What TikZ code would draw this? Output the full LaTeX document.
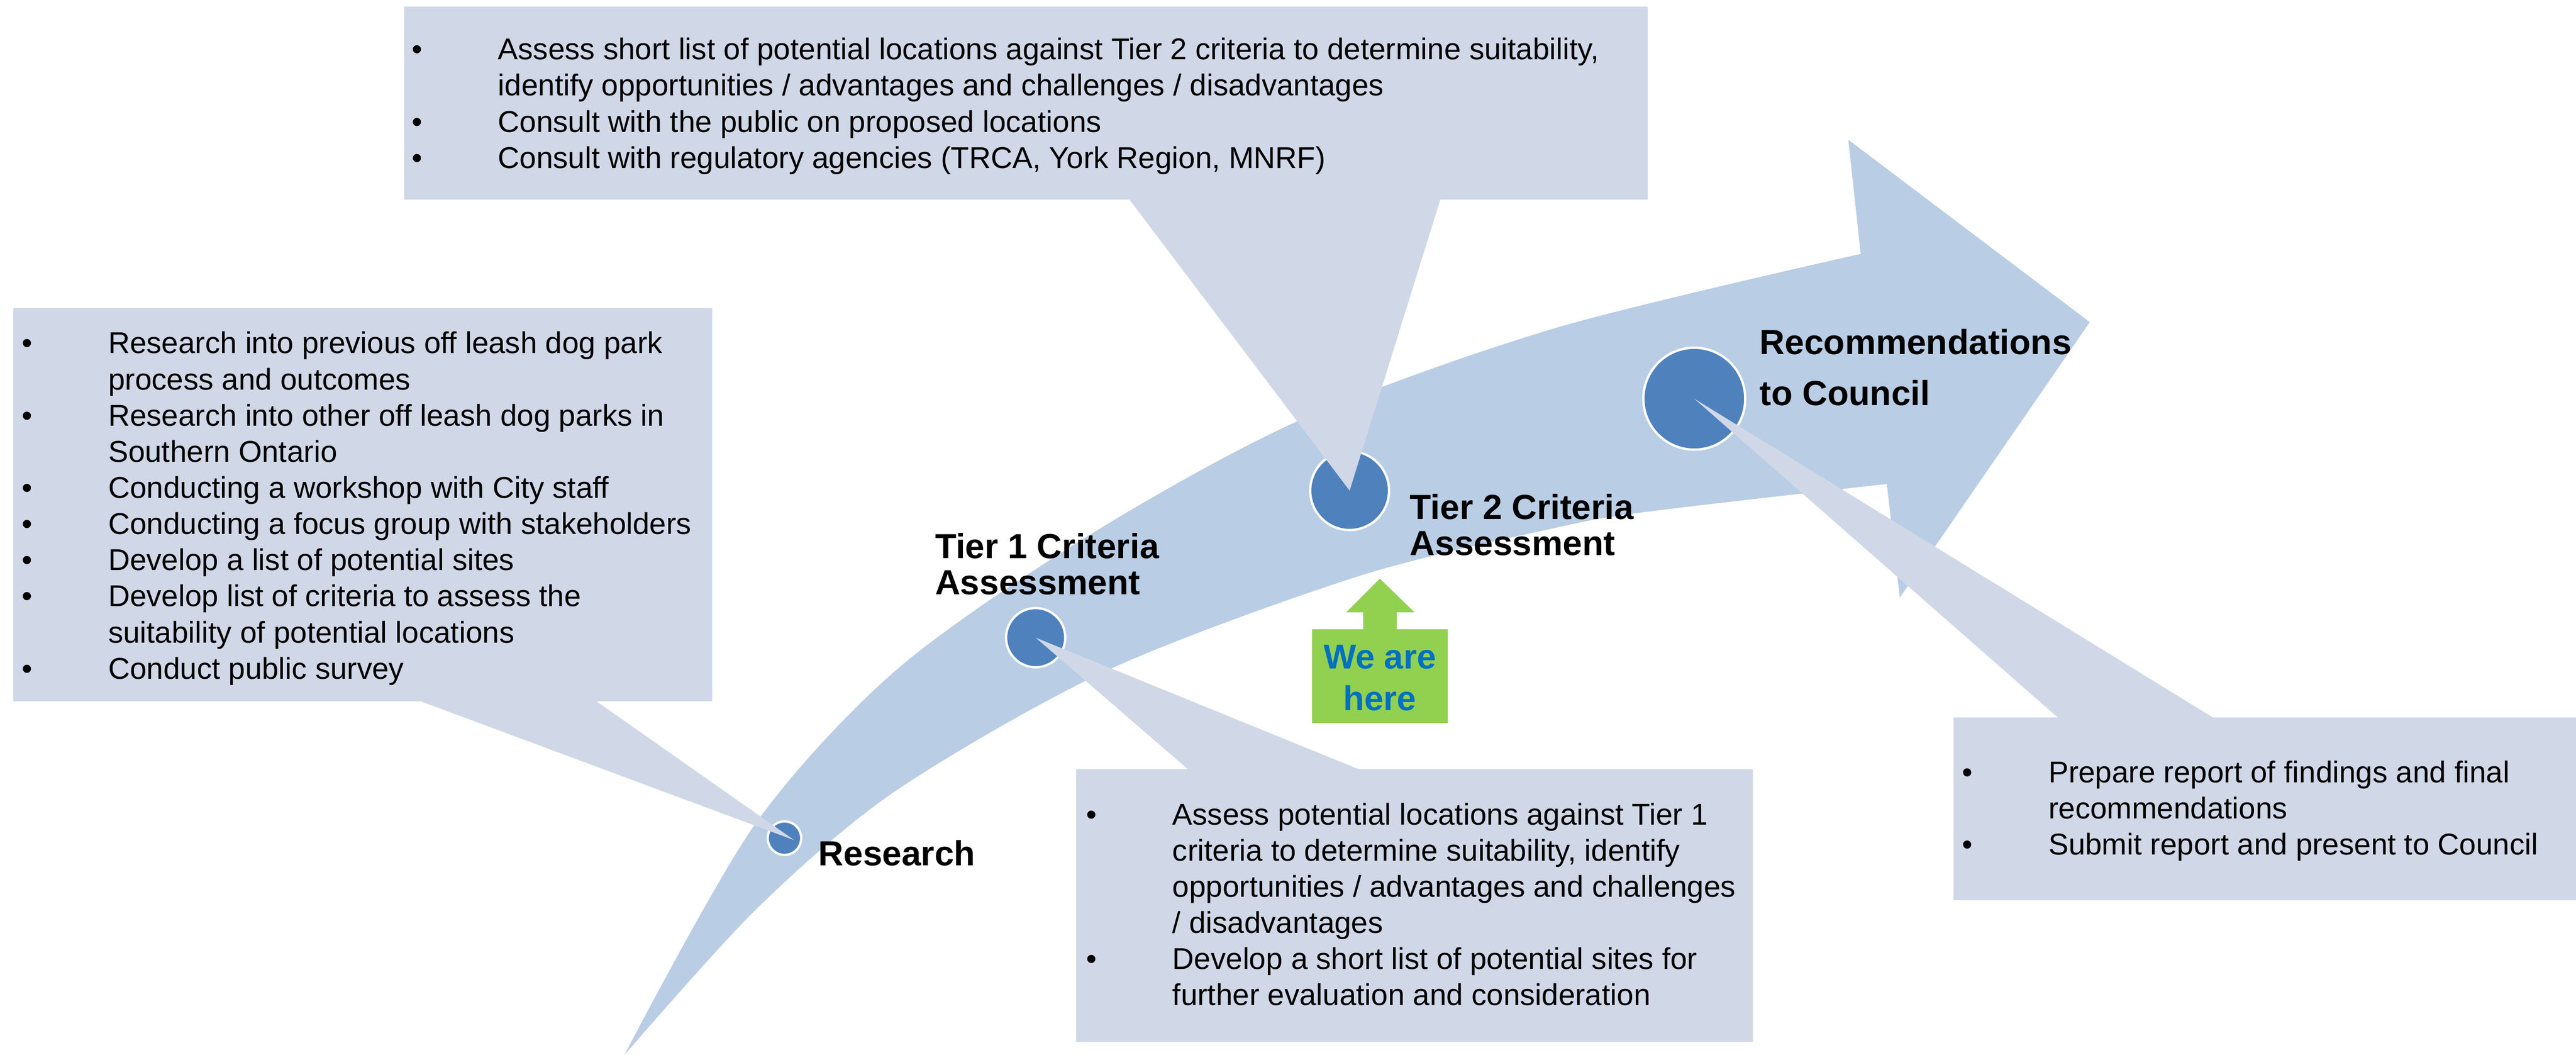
\documentclass[tikz,border=0pt]{standalone}
\usepackage{fontspec}
\setmainfont{Liberation Sans}
\usetikzlibrary{calc}
\newcommand\bul{\llap{\makebox[52.5pt][l]{•}}}

\begin{document}
\begin{tikzpicture}[x=1pt,y=-1pt,
  stage/.style={circle,fill=stageblue,draw=white,line width=1.4pt,inner sep=0},
  note/.style={fill=notefill},
  notetext/.style={anchor=base west,inner sep=0,font=\fontsize{18.3}{22}\selectfont},
  steplabel/.style={anchor=base west,inner sep=0,font=\bfseries\fontsize{21.2}{22}\selectfont}]
\definecolor{arrowblue}{HTML}{B9CDE5}
\definecolor{stageblue}{HTML}{4F81BD}
\definecolor{notefill}{HTML}{D0D8E8}
\definecolor{heregreen}{HTML}{92D050}
\definecolor{hereblue}{HTML}{0070C0}
\useasboundingbox (0,0) rectangle (1568,641.7);

\fill[arrowblue] (380,642) -- plot[smooth] coordinates {(380,642) (458.8,502.7) (545.5,407.7) (662.6,325.9) (791.6,255.5) (947.5,199.4) (1132.6,154.5)}
  -- (1125,85) -- (1272,196) -- (1156.4,363.6)
  -- plot[smooth] coordinates {(1148.5,294.5) (1004.9,311.1) (947.5,321) (826.9,350.6) (674.4,407.7) (545.5,481) (460.8,552.7) (380,642)} -- cycle;

\foreach \nm/\x/\y/\d in {research/477.5/510/20.4,tierone/630.4/388/36,tiertwo/821.5/298.5/48,council/1031.3/242.6/62}
  {  \node [stage,minimum size=\d pt] (\nm) at (\x,\y) {};}

\fill[note] (8,426.7) -- (8,187.5) -- (433.5,187.5) -- (433.5,426.7) -- (363,426.7) -- ($(research.center)+(5.9,1.2)$) -- (256,426.7) -- cycle;
\fill[note] (246,121.5) -- (246,4) -- (1003,4) -- (1003,121.5) -- (876.7,121.5) -- (tiertwo.center) -- (687.5,121.5) -- cycle;
\fill[note] (655,634) -- (655,468) -- (723,468) -- (tierone.center) -- (826.9,468) -- (1067,468) -- (1067,634) -- cycle;
\fill[note] (1189,547.7) -- (1189,436.6) -- (1252.6,436.6) -- (council.center) -- (1347,436.6) -- (1568,436.6) -- (1568,547.7) -- cycle;

\node[notetext] (researchnote) at (65.7,215.1) {\begin{tabular}[t]{@{}l@{}}
\bul Research into previous off leash dog park\\
process and outcomes\\
\bul Research into other off leash dog parks in\\
Southern Ontario\\
\bul Conducting a workshop with City staff\\
\bul Conducting a focus group with stakeholders\\
\bul Develop a list of potential sites\\
\bul Develop list of criteria to assess the\\
suitability of potential locations\\
\bul Conduct public survey
\end{tabular}};
\node[notetext] (tiertwonote) at (303,36.3) {\begin{tabular}[t]{@{}l@{}}
\bul Assess short list of potential locations against Tier 2 criteria to determine suitability,\\
identify opportunities / advantages and challenges / disadvantages\\
\bul Consult with the public on proposed locations\\
\bul Consult with regulatory agencies (TRCA, York Region, MNRF)
\end{tabular}};
\node[notetext] (tieronenote) at (713.5,501.8) {\begin{tabular}[t]{@{}l@{}}
\bul Assess potential locations against Tier 1\\
criteria to determine suitability, identify\\
opportunities / advantages and challenges\\
/ disadvantages\\
\bul Develop a short list of potential sites for\\
further evaluation and consideration
\end{tabular}};
\node[notetext] (councilnote) at (1246.7,476.2) {\begin{tabular}[t]{@{}l@{}}
\bul Prepare report of findings and final\\
recommendations\\
\bul Submit report and present to Council
\end{tabular}};

\node[steplabel] (researchlabel) at (498,526.8) {Research};
\node[steplabel] (tieronelabel) at (569,339.8) {\begin{tabular}[t]{@{}l@{}}Tier 1 Criteria\\Assessment\end{tabular}};
\node[steplabel] (tiertwolabel) at (858,315.8) {\begin{tabular}[t]{@{}l@{}}Tier 2 Criteria\\Assessment\end{tabular}};
\node[steplabel,font=\bfseries\fontsize{21.2}{31.2}\selectfont] (councillabel) at (1071,215.5) {\begin{tabular}[t]{@{}l@{}}Recommendations\\to Council\end{tabular}};

\fill[heregreen] (798.6,440) -- (798.6,382.9) -- (829.7,382.9) -- (829.7,372.6) -- (819.4,372.6) -- (839.9,352.1) -- (861,372.6) -- (850.2,372.6) -- (850.2,382.9) -- (881.2,382.9) -- (881.2,440) -- cycle;
\node[anchor=base,inner sep=0,text=hereblue,font=\bfseries\fontsize{21}{25.5}\selectfont] (here) at (839.9,406.9) {\begin{tabular}[t]{@{}c@{}}We are\\here\end{tabular}};
\end{tikzpicture}
\end{document}
